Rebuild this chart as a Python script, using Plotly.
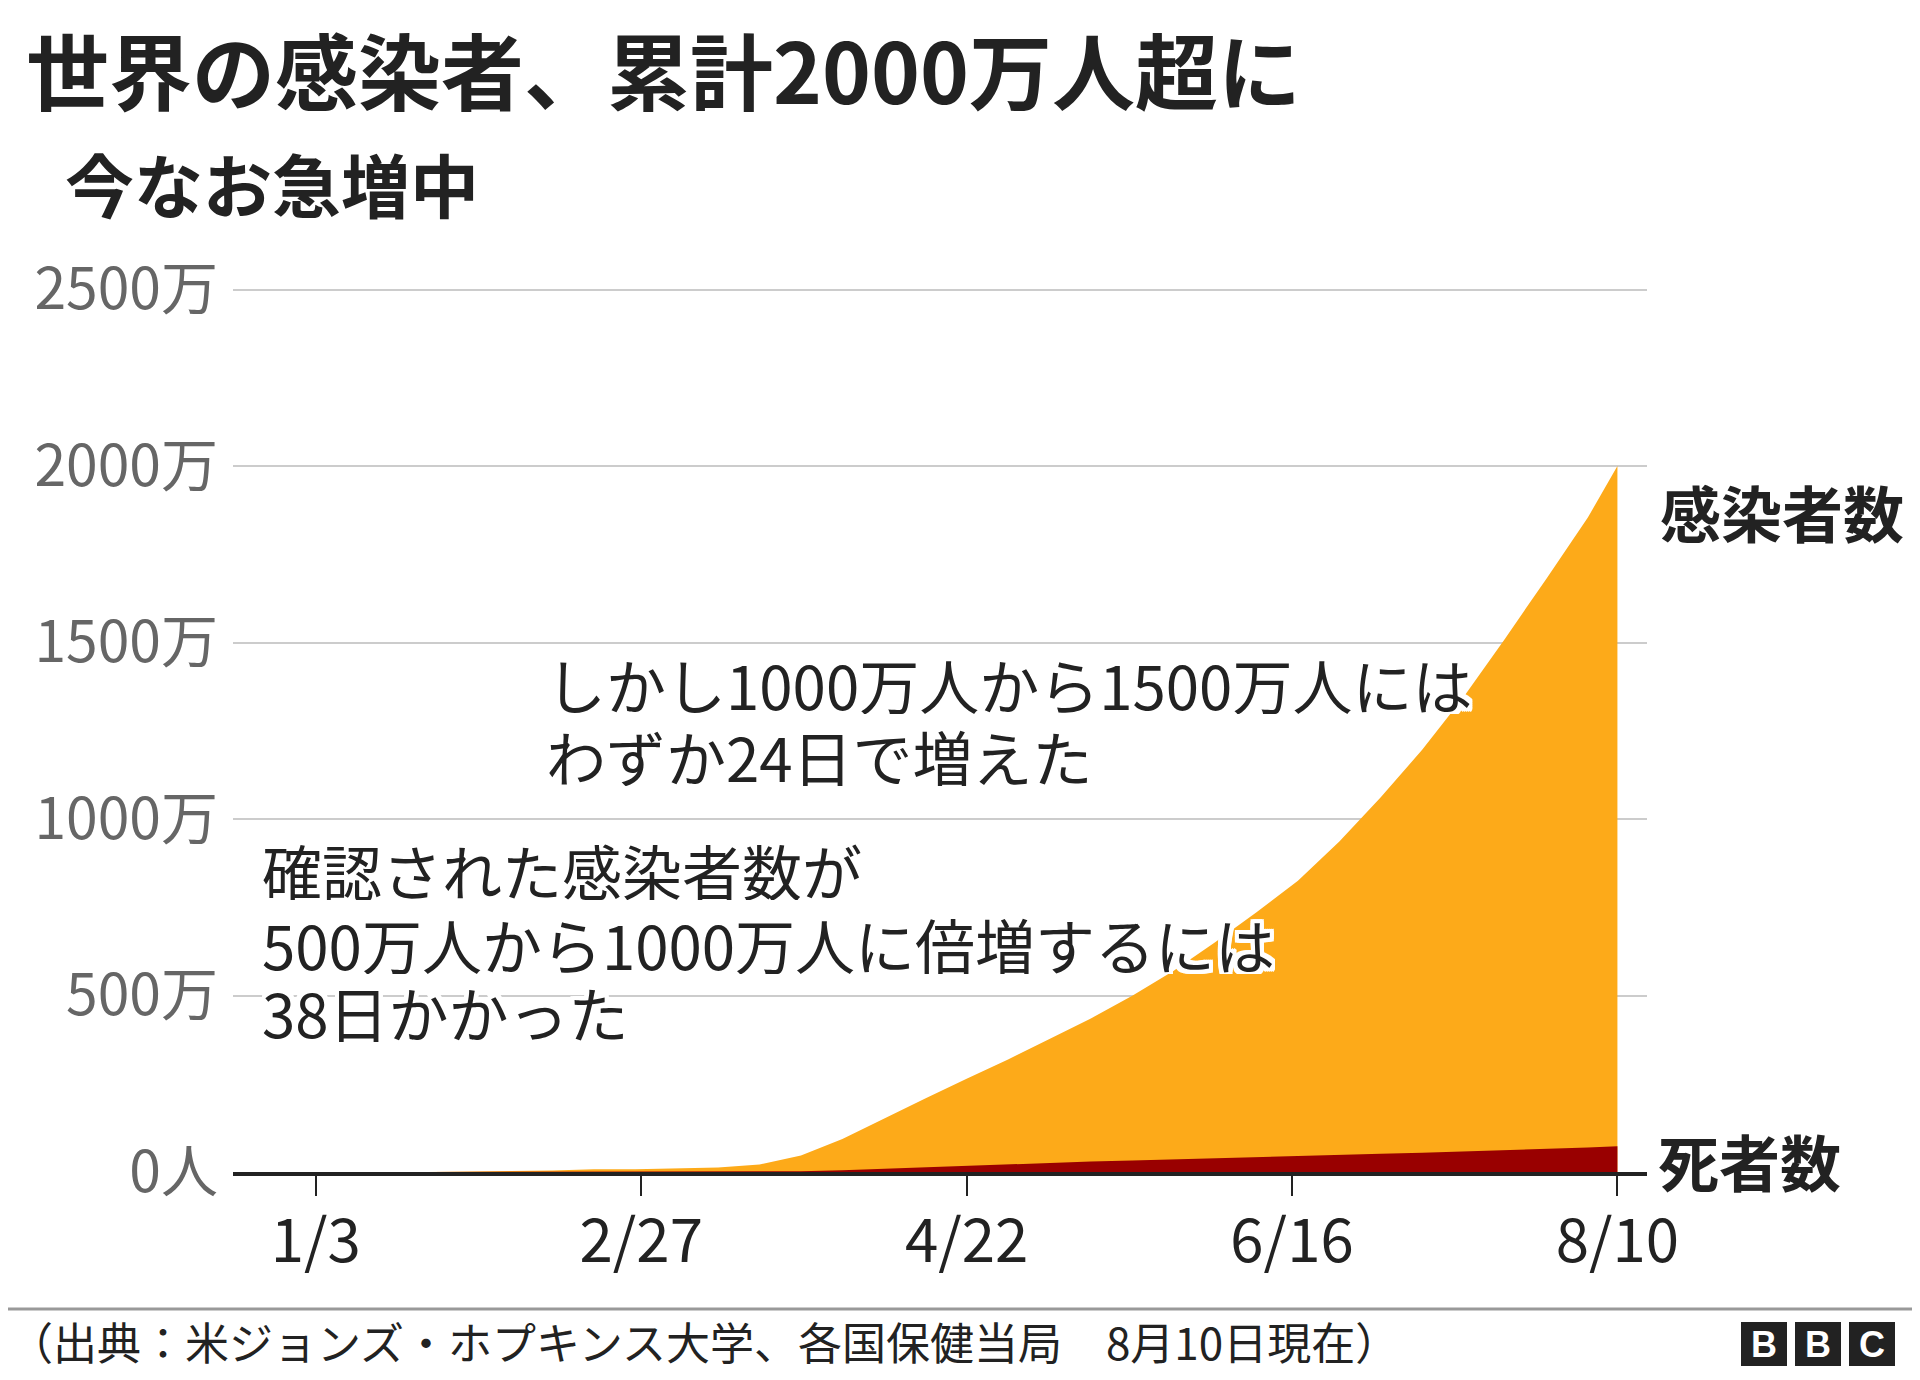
import plotly.graph_objects as go

# ── Data (cumulative) ─────────────────────────────────────────
dates = [
    "2020-01-22", "2020-01-29", "2020-02-05", "2020-02-12", "2020-02-19",
    "2020-02-26", "2020-03-04", "2020-03-11", "2020-03-18", "2020-03-25",
    "2020-04-01", "2020-04-08", "2020-04-15", "2020-04-22", "2020-04-29",
    "2020-05-06", "2020-05-13", "2020-05-20", "2020-05-27", "2020-06-03",
    "2020-06-10", "2020-06-17", "2020-06-24", "2020-07-01", "2020-07-08",
    "2020-07-15", "2020-07-22", "2020-07-29", "2020-08-05", "2020-08-10",
]
cases = [
    555, 6100, 28000, 45400, 75500,
    81400, 95100, 126000, 214000, 468000,
    933000, 1510000, 2080000, 2640000, 3190000,
    3770000, 4350000, 4990000, 5700000, 6510000,
    7360000, 8250000, 9360000, 10620000, 11960000,
    13460000, 15110000, 16810000, 18540000, 20000000,
]
deaths = [
    17, 130, 560, 1120, 2120,
    2800, 3300, 4500, 8800, 21300,
    47000, 88000, 145000, 184000, 228000,
    264000, 298000, 325000, 353000, 385000,
    418000, 448000, 482000, 514000, 547000,
    581000, 618000, 659000, 695000, 733000,
]

x_tickvals = ["2020-01-03", "2020-02-27", "2020-04-22", "2020-06-16", "2020-08-10"]
x_ticktext = ["1/3", "2/27", "4/22", "6/16", "8/10"]
y_tickvals = [0, 5e6, 10e6, 15e6, 20e6, 25e6]
y_ticktext = ["0人", "500万", "1000万", "1500万", "2000万", "2500万"]

FONT = "Noto Sans CJK JP"
DARK = "#222222"
ORANGE = "#FDAA19"
RED = "#990000"

# page has an 8px body margin; positions below are in page pixels
OFF = 8
W, H = 1920, 1380
Y_TOP = 25.1e6

# white halo around annotation text
halo = ", ".join(
    f"{dx}px {dy}px 0 #ffffff"
    for dx in (-4, -2, 0, 2, 4) for dy in (-4, -2, 0, 2, 4)
    if (dx, dy) != (0, 0)
)

fig = go.Figure()

fig.add_trace(go.Scatter(
    x=dates, y=cases,
    mode="lines", line=dict(width=0, color=ORANGE),
    fill="tozeroy", fillcolor=ORANGE,
    name="感染者数", hoverinfo="skip",
))
fig.add_trace(go.Scatter(
    x=dates, y=deaths,
    mode="lines", line=dict(width=0, color=RED),
    fill="tozeroy", fillcolor=RED,
    name="死者数", hoverinfo="skip",
))

# plot area (page pixels): x 233..1647, y(0) at 1172, y(2500万) at 290
L, R, B = 233 - OFF, 1647 - OFF, 1172 - OFF
T = B - (1172 - 290) * Y_TOP / 25e6


def px(x):
    return (x - OFF - L) / (R - L)


def py(y):
    return (B - (y - OFF)) / (B - T)


def note(text, x, y, size, halo_on=False, color=DARK, box=None):
    f = dict(size=size, color=color)
    if halo_on:
        f["shadow"] = halo
    a = dict(text=text, x=px(x), y=py(y), xref="paper", yref="paper",
             xanchor="left", yanchor="middle", align="left",
             showarrow=False, font=f, borderpad=0)
    if box:
        a["height"] = box
    return a


annotations = [
    note("<b>世界の感染者、累計2000万人超に</b>", 25, 69, 83, box=92),
    note("<b>今なお急増中</b>", 64, 184, 69, box=80),
    note("しかし1000万人から1500万人には", 545, 683, 60, True, box=62),
    note("わずか24日で増えた", 545, 755, 60, True, box=62),
    note("確認された感染者数が", 261, 869, 60, True, box=62),
    note("500万人から1000万人に倍増するには", 261, 943, 60, True, box=62),
    note("38日かかった", 261, 1011, 60, True, box=62),
    note("<b>感染者数</b>", 1659, 511, 61, box=70),
    note("<b>死者数</b>", 1657, 1160, 61, box=70),
    note("（出典：米ジョンズ・ホプキンス大学、各国保健当局　8月10日現在）", 8, 1341, 44, box=52),
]

shapes = [
    dict(type="line", xref="paper", yref="paper",
         x0=px(0), x1=px(1930), y0=py(1309), y1=py(1309),
         line=dict(color="#999999", width=3)),
]
# BBC logo blocks
for i, letter in enumerate(["B", "B", "C"]):
    x0 = 1741 + i * 54
    shapes.append(dict(
        type="rect", xref="paper", yref="paper",
        x0=px(x0), x1=px(x0 + 46), y0=py(1366), y1=py(1322),
        fillcolor="#222222", line=dict(width=0),
    ))
    annotations.append(dict(
        text=f"<b>{letter}</b>", xref="paper", yref="paper",
        x=px(x0 + 23), y=py(1344), xanchor="center", yanchor="middle",
        showarrow=False, font=dict(size=36, color="white", family="Liberation Sans"),
    ))

fig.update_layout(
    width=W, height=H,
    margin=dict(l=L, r=W - R, t=T, b=H - B, autoexpand=False),
    paper_bgcolor="white", plot_bgcolor="white",
    font=dict(family=FONT, color=DARK),
    showlegend=False,
    annotations=annotations,
    shapes=shapes,
    xaxis=dict(
        type="date",
        range=["2019-12-20", "2020-08-15"],
        tickvals=x_tickvals, ticktext=x_ticktext,
        ticks="outside", ticklen=20, tickwidth=2, tickcolor=DARK,
        tickfont=dict(size=60, color=DARK),
        ticklabelstandoff=-6,
        showgrid=False, zeroline=False,
        showline=True, linecolor=DARK, linewidth=4,
    ),
    yaxis=dict(
        range=[0, Y_TOP],
        tickvals=y_tickvals, ticktext=y_ticktext,
        tickfont=dict(size=57, color="#666666"),
        ticks="", ticklabelstandoff=14,
        showgrid=True, gridcolor="#CCCCCC", gridwidth=2,
        zeroline=False, showline=False,
    ),
)

fig.write_html("out.html")
